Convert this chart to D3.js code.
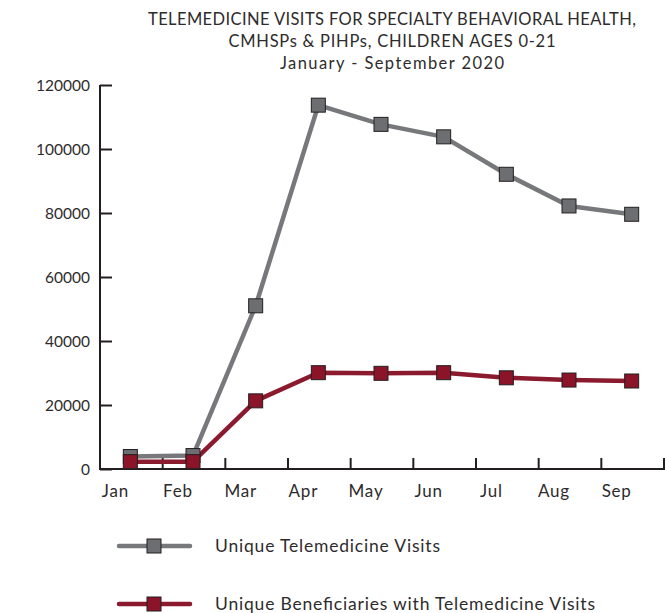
<!DOCTYPE html>
<html><head><meta charset="utf-8">
<script src="https://cdn.jsdelivr.net/npm/d3@7"></script>
<style>body{margin:0;background:#fff}svg{display:block}text{font-family:"Lato","DejaVu Sans",sans-serif;fill:#2e2b2c;font-weight:400}</style>
</head><body><svg id="c" width="665" height="613"></svg>
<script>
const months = ["Jan","Feb","Mar","Apr","May","Jun","Jul","Aug","Sep"];
const visits = [3900, 4200, 51000, 113700, 107700, 103800, 92100, 82200, 79600];
const beneficiaries = [2300, 2300, 21300, 30100, 29900, 30100, 28500, 27800, 27500];
const yTicks = [0, 20000, 40000, 60000, 80000, 100000, 120000];
const titleLines = ["TELEMEDICINE VISITS FOR SPECIALTY BEHAVIORAL HEALTH,", "CMHSPs & PIHPs, CHILDREN AGES 0-21", "January - September 2020"];
const seriesNames = ["Unique Telemedicine Visits", "Unique Beneficiaries with Telemedicine Visits"];

const svg = d3.select("#c");
const x = d3.scaleBand().domain(months).range([100, 664]);
const y = d3.scaleLinear().domain([0, 120000]).range([469, 85]);

const titleW = [488, 327, 224];
svg.append("g").selectAll("text").data(titleLines).join("text")
  .attr("x", 392).attr("y", (d,i)=>25 + i*22).attr("text-anchor","middle")
  .attr("textLength",(d,i)=>titleW[i]).attr("lengthAdjust","spacing")
  .style("font-size","16.5px").text(d=>d);

// y axis
const ya = svg.append("g").attr("transform","translate(100,0)")
  .call(d3.axisRight(y).tickValues(yTicks).tickSize(12).tickFormat(d=>d));
ya.select(".domain").attr("stroke","#231f20").attr("stroke-width",2).attr("d","M0,85V470");
ya.selectAll(".tick line").attr("stroke","#231f20").attr("stroke-width",2);
ya.selectAll(".tick text").attr("x",-10).attr("text-anchor","end").style("font-size","15.5px").attr("fill","#2e2b2c").attr("dy","0.35em");

// x axis
const xa = svg.append("g").attr("transform","translate(0,469)");
xa.append("line").attr("x1",99).attr("x2",665).attr("y1",0).attr("y2",0).attr("stroke","#231f20").attr("stroke-width",2);
const bounds = months.map(m=>x(m)).concat([x.range()[1]]);
xa.selectAll("line.t").data(bounds.slice(1)).join("line").attr("class","t")
  .attr("x1",d=>d).attr("x2",d=>d).attr("y1",0).attr("y2",-11).attr("stroke","#231f20").attr("stroke-width",2);
xa.selectAll("text").data(months).join("text")
  .attr("x",d=>x(d)+x.bandwidth()/2-16).attr("y",28).attr("text-anchor","middle")
  .style("font-size","17px").style("letter-spacing","0.8px").text(d=>d);

const series = [
  {vals: visits, line:"#77787b", fill:"#6d6e71"},
  {vals: beneficiaries, line:"#8b1a2e", fill:"#8b1428"}
];
const cx = m => x(m)+x.bandwidth()/2 - 1;
const line = d3.line().x((d,i)=>cx(months[i])).y(d=>y(d));
series.forEach(s=>{
  svg.append("path").attr("d",line(s.vals)).attr("fill","none").attr("stroke",s.line).attr("stroke-width",4.5).attr("stroke-linejoin","round");
});
series.forEach(s=>{
  svg.append("g").selectAll("rect").data(s.vals).join("rect")
    .attr("x",(d,i)=>cx(months[i])-7).attr("y",d=>y(d)-7).attr("width",14).attr("height",14)
    .attr("fill",s.fill).attr("stroke","#231f20").attr("stroke-width",1);
});

// legend
const legW = [225, 380];
const lg = svg.append("g");
series.forEach((s,i)=>{
  const yy = 546 + i*58;
  lg.append("line").attr("x1",119).attr("x2",190).attr("y1",yy).attr("y2",yy).attr("stroke",s.line).attr("stroke-width",4.5).attr("stroke-linecap","round");
  lg.append("rect").attr("x",147).attr("y",yy-7).attr("width",14).attr("height",14).attr("fill",s.fill).attr("stroke","#231f20");
  lg.append("text").attr("x",215).attr("y",yy).attr("dy","0.35em").style("font-size","17.5px")
    .attr("textLength",legW[i]).attr("lengthAdjust","spacing").text(seriesNames[i]);
});
</script></body></html>
